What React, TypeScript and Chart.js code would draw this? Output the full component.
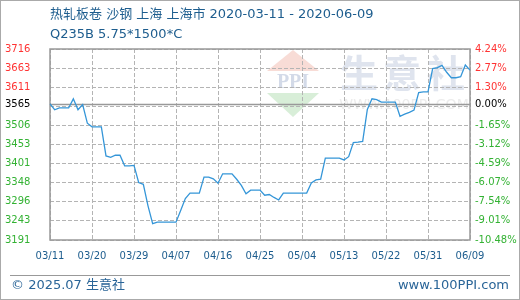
import React, { useEffect, useRef } from 'react';
import { Chart, registerables } from 'chart.js';

Chart.register(...registerables);

const titleLine1 = '热轧板卷 沙钢 上海 上海市 2020-03-11 - 2020-06-09';
const titleLine2 = 'Q235B 5.75*1500*C';
const footerLeft = '© 2025.07 生意社';
const footerRight = 'www.100PPI.com';
const watermarkText = ['生', '意', '社'];
const watermarkUrl = 'WWW.100PPI.COM';

const startDateUTC = Date.UTC(2020, 2, 11);

const prices = [
  3565, 3549, 3554, 3554, 3554, 3579, 3549, 3563, 3512, 3502,
  3502, 3502, 3422, 3418, 3424, 3424, 3395, 3395, 3396, 3349,
  3344, 3285, 3236, 3240, 3240, 3240, 3240, 3240, 3272, 3305,
  3320, 3320, 3320, 3364, 3364, 3359, 3347, 3373, 3373, 3373,
  3358, 3341, 3318, 3328, 3328, 3328, 3314, 3316, 3308, 3301,
  3320, 3320, 3320, 3320, 3320, 3320, 3348, 3356, 3358, 3416,
  3416, 3416, 3416, 3411, 3420, 3459, 3460, 3462, 3550, 3579,
  3577, 3570, 3570, 3570, 3570, 3531, 3537, 3542, 3548, 3596,
  3598, 3598, 3662, 3665, 3671, 3652, 3637, 3637, 3640, 3672,
  3658,
];

const dateLabels = prices.map((_, i) => {
  const d = new Date(startDateUTC + i * 86400000);
  const mm = String(d.getUTCMonth() + 1).padStart(2, '0');
  const dd = String(d.getUTCDate()).padStart(2, '0');
  return `${mm}/${dd}`;
});

const xTickStep = 9;

const baseValue = 3565;
const baseLeftLabel = '3565';
const baseRightLabel = '0.00%';
const yMin = 3191;
const yMax = 3716;
const gridValues = [3191, 3243.5, 3296, 3348.5, 3401, 3453.5, 3506, 3558.5, 3611, 3663.5, 3716];
const leftTickLabels = ['3191', '3243', '3296', '3348', '3401', '3453', '3506', '', '3611', '3663', '3716'];
const rightTickLabels = ['-10.48%', '-9.01%', '-7.54%', '-6.07%', '-4.59%', '-3.12%', '-1.65%', '', '1.30%', '2.77%', '4.24%'];

const RED = '#ff3333';
const GREEN = '#33b233';
const BLUE_TEXT = '#1d5d8e';
const GRID = '#b4b4b4';
const FRAME = '#999999';
const FONT = '"DejaVu Sans", "Noto Sans CJK SC", sans-serif';
const TRANSPARENT = 'rgba(0,0,0,0)';

function isBase(v: number) {
  return Math.abs(v - baseValue) < 0.01;
}

function tickColor(v: number) {
  if (isBase(v)) return '#000000';
  return v > baseValue ? RED : GREEN;
}

function labelFor(v: number, labels: string[], baseLabel: string) {
  if (isBase(v)) return baseLabel;
  const i = gridValues.findIndex((g) => Math.abs(g - v) < 0.01);
  return i >= 0 ? labels[i] : '';
}

function buildTicks(axis: any) {
  axis.ticks = [...gridValues, baseValue].sort((a, b) => a - b).map((v) => ({ value: v }));
}

const decorPlugin = {
  id: 'decor',
  beforeDraw(chart: any) {
    const { ctx, width, height, chartArea } = chart;
    ctx.save();
    ctx.fillStyle = '#ffffff';
    ctx.fillRect(0, 0, width, height);
    ctx.strokeStyle = '#aaaaaa';
    ctx.lineWidth = 1;
    ctx.strokeRect(0.5, 0.5, width - 1, height - 1);

    ctx.fillStyle = BLUE_TEXT;
    ctx.font = `13px ${FONT}`;
    ctx.textBaseline = 'middle';
    ctx.textAlign = 'left';
    ctx.fillText(titleLine1, chartArea.left, 15);
    ctx.fillText(titleLine2, chartArea.left, 35);

    ctx.strokeStyle = '#999999';
    ctx.lineWidth = 1;
    ctx.beginPath();
    ctx.moveTo(10, 275.5);
    ctx.lineTo(width - 10, 275.5);
    ctx.stroke();
    ctx.font = `13px ${FONT}`;
    ctx.fillStyle = '#2a6598';
    ctx.textAlign = 'left';
    ctx.fillText(footerLeft, 11, 286);
    ctx.textAlign = 'right';
    ctx.fillText(footerRight, width - 11, 286);

    const lx = 293;
    ctx.fillStyle = '#f8dcd6';
    ctx.beginPath();
    ctx.moveTo(lx, chartArea.top + 1);
    ctx.lineTo(lx + 26, chartArea.top + 22);
    ctx.lineTo(lx - 26, chartArea.top + 22);
    ctx.closePath();
    ctx.fill();
    ctx.fillStyle = '#d8eed8';
    ctx.beginPath();
    ctx.moveTo(lx - 26, chartArea.top + 44);
    ctx.lineTo(lx + 26, chartArea.top + 44);
    ctx.lineTo(lx, chartArea.top + 68);
    ctx.closePath();
    ctx.fill();
    ctx.fillStyle = '#d3dae8';
    ctx.font = 'bold 20px "Liberation Serif", serif';
    ctx.textAlign = 'center';
    ctx.fillText('PPI', lx, chartArea.top + 34);

    ctx.fillStyle = '#dfe4ee';
    ctx.font = `bold 38px "Noto Sans CJK SC", sans-serif`;
    const cx = [359, 402, 446];
    watermarkText.forEach((c, i) => ctx.fillText(c, cx[i], chartArea.top + 24));
    ctx.fillStyle = '#ececec';
    ctx.font = `14px ${FONT}`;
    ctx.fillText(watermarkUrl, 404, chartArea.top + 56);
    ctx.restore();
  },
  beforeDatasetsDraw(chart: any) {
    const { ctx, chartArea, scales } = chart;
    const { left, right, top, bottom } = chartArea;
    ctx.save();
    ctx.strokeStyle = FRAME;
    ctx.lineWidth = 1.5;
    const yb = Math.round(scales.y.getPixelForValue(baseValue)) + 0.5;
    ctx.beginPath();
    ctx.moveTo(left, yb);
    ctx.lineTo(right, yb);
    ctx.stroke();
    ctx.strokeRect(left, top, right - left, bottom - top);
    ctx.restore();
  },
};

export default function App() {
  const ref = useRef<HTMLCanvasElement>(null);
  useEffect(() => {
    document.body.style.margin = '0';
    const canvas = ref.current!;
    const chart = new Chart(canvas, {
      type: 'line',
      data: {
        labels: dateLabels,
        datasets: [
          {
            data: prices,
            borderColor: '#3596d8',
            borderWidth: 1.3,
            pointRadius: 0,
            tension: 0,
            fill: false,
            yAxisID: 'y',
          },
        ],
      },
      options: {
        animation: false,
        responsive: false,
        devicePixelRatio: 1,
        events: [],
        layout: { padding: { left: 5, right: 0, top: 49, bottom: 0 } },
        plugins: { legend: { display: false }, tooltip: { enabled: false }, title: { display: false } },
        scales: {
          x: {
            type: 'category',
            offset: false,
            afterFit: (axis: any) => { axis.height = 60; },
            border: { display: false, dash: [4, 2] },
            grid: {
              display: true,
              drawTicks: false,
              lineWidth: 1,
              color: (c: any) => (c.index % xTickStep === 0 ? GRID : TRANSPARENT),
            },
            ticks: {
              autoSkip: false,
              maxRotation: 0,
              padding: 10,
              color: BLUE_TEXT,
              font: { family: FONT, size: 10 },
              callback: (_v: any, i: number) => (i % xTickStep === 0 ? dateLabels[i] : ''),
            },
          },
          y: {
            type: 'linear',
            position: 'left',
            min: yMin,
            max: yMax,
            afterBuildTicks: buildTicks,
            afterFit: (axis: any) => { axis.width = 45; },
            border: { display: false, dash: [4, 2] },
            grid: {
              display: true,
              drawTicks: false,
              lineWidth: 1,
              color: (c: any) => (c.tick && isBase(c.tick.value) ? TRANSPARENT : GRID),
            },
            ticks: {
              autoSkip: false,
              crossAlign: 'far',
              padding: 0,
              font: { family: FONT, size: 10 },
              color: (c: any) => tickColor(c.tick.value),
              callback: (v: any) => labelFor(Number(v), leftTickLabels, baseLeftLabel),
            },
          },
          y2: {
            type: 'linear',
            position: 'right',
            min: yMin,
            max: yMax,
            afterBuildTicks: buildTicks,
            afterFit: (axis: any) => { axis.width = 50; },
            border: { display: false },
            grid: { display: false, drawOnChartArea: false, drawTicks: false },
            ticks: {
              autoSkip: false,
              padding: 5,
              font: { family: FONT, size: 10 },
              color: (c: any) => tickColor(c.tick.value),
              callback: (v: any) => labelFor(Number(v), rightTickLabels, baseRightLabel),
            },
          },
        },
      } as any,
      plugins: [decorPlugin],
    });
    return () => chart.destroy();
  }, []);
  return <canvas ref={ref} width={520} height={300} style={{ display: 'block' }} />;
}
